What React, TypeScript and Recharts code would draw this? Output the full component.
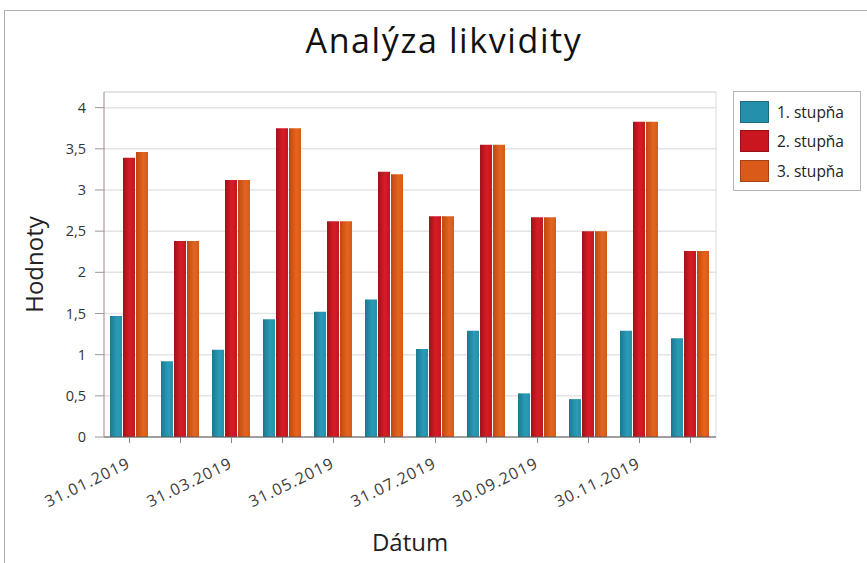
import { Bar, BarChart, CartesianGrid, Legend, XAxis, YAxis } from "recharts";

const dates = [
  "31.01.2019", "28.02.2019", "31.03.2019", "30.04.2019", "31.05.2019", "30.06.2019",
  "31.07.2019", "31.08.2019", "30.09.2019", "31.10.2019", "30.11.2019", "31.12.2019",
];
const stupen1 = [1.47, 0.92, 1.06, 1.43, 1.52, 1.67, 1.07, 1.29, 0.53, 0.46, 1.29, 1.2];
const stupen2 = [3.39, 2.38, 3.12, 3.75, 2.62, 3.22, 2.68, 3.55, 2.67, 2.5, 3.83, 2.26];
const stupen3 = [3.46, 2.38, 3.12, 3.75, 2.62, 3.19, 2.68, 3.55, 2.67, 2.5, 3.83, 2.26];

const seriesNames = ["1. stupňa", "2. stupňa", "3. stupňa"];
const majorTicks = [0, 0.5, 1, 1.5, 2, 2.5, 3, 3.5, 4];
const minorTicks = [
  0, 0.1, 0.2, 0.3, 0.4, 0.5, 0.6, 0.7, 0.8, 0.9, 1, 1.1, 1.2, 1.3, 1.4, 1.5, 1.6, 1.7, 1.8, 1.9,
  2, 2.1, 2.2, 2.3, 2.4, 2.5, 2.6, 2.7, 2.8, 2.9, 3, 3.1, 3.2, 3.3, 3.4, 3.5, 3.6, 3.7, 3.8, 3.9, 4,
];

const colors = ["url(#gTeal)", "url(#gRed)", "url(#gOrange)"];
const swatches = ["#2590ab", "#c9161f", "#da5a1a"];

const data = dates.map((d, i) => ({
  date: d,
  s1: stupen1[i],
  s2: stupen2[i],
  s3: stupen3[i],
}));

const FONT = "'Open Sans', 'DejaVu Sans', sans-serif";

const DateTick = (props: any) => {
  const { x, y, payload, index } = props;
  // only every second date gets a label, ticks stay on all
  if (index % 2 !== 0) return null;
  return (
    <g transform={`translate(${x + 2},${y + 22})`}>
      <text
        x={0}
        y={0}
        textAnchor="end"
        transform="rotate(-26)"
        fontSize={16}
        letterSpacing={1.1}
        fill="#3a3a3a"
        fontFamily={FONT}
      >
        {payload.value}
      </text>
    </g>
  );
};

const LegendBox = () => (
  <div
    style={{
      border: "1px solid #b5b5b5",
      background: "#fff",
      padding: "5px 4px 4px 6px",
      width: 116,
      fontFamily: FONT,
      fontSize: 15.5,
      color: "#222",
    }}
  >
    {seriesNames.map((n, i) => (
      <div key={n} style={{ display: "flex", alignItems: "center", height: 29.5 }}>
        <div
          style={{
            width: 29,
            height: 22,
            background: swatches[i],
            border: "1px solid rgba(0,0,0,0.25)",
            boxSizing: "border-box",
            marginRight: 8,
          }}
        />
        <span>{n}</span>
      </div>
    ))}
  </div>
);

export default function App() {
  return (
    <div style={{ position: "absolute", left: 0, top: 0, width: 867, height: 563, background: "#fff" }}>
      <div
        style={{
          position: "absolute",
          left: 4,
          top: 10,
          width: 880,
          height: 570,
          border: "1px solid #b0b0b0",
          boxSizing: "border-box",
        }}
      />
      <div
        style={{
          position: "absolute",
          left: 0,
          top: 17,
          width: 888,
          textAlign: "center",
          fontFamily: FONT,
          fontSize: 34,
          letterSpacing: 1.6,
          color: "#111",
        }}
      >
        Analýza likvidity
      </div>
      <div style={{ position: "absolute", left: 0, top: 0 }}>
        <BarChart
          width={867}
          height={563}
          data={data}
          margin={{ top: 92, right: 151, bottom: 6, left: 0 }}
          barCategoryGap={6}
          barGap={1}
        >
          <defs>
            <linearGradient id="gTeal" x1="0" y1="0" x2="1" y2="0">
              <stop offset="0%" stopColor="#1b7890" />
              <stop offset="60%" stopColor="#2a9bb8" />
              <stop offset="100%" stopColor="#2690aa" />
            </linearGradient>
            <linearGradient id="gRed" x1="0" y1="0" x2="1" y2="0">
              <stop offset="0%" stopColor="#9e1219" />
              <stop offset="55%" stopColor="#d81c26" />
              <stop offset="100%" stopColor="#c4161f" />
            </linearGradient>
            <linearGradient id="gOrange" x1="0" y1="0" x2="1" y2="0">
              <stop offset="0%" stopColor="#bf4810" />
              <stop offset="60%" stopColor="#e3651f" />
              <stop offset="100%" stopColor="#d65a18" />
            </linearGradient>
          </defs>
          <CartesianGrid vertical={false} stroke="#e4e4e4" strokeWidth={1.5} />
          <CartesianGrid
            stroke="#dcdcdc"
            horizontalCoordinatesGenerator={({ offset }: any) => [offset.top]}
            verticalCoordinatesGenerator={({ offset }: any) => [offset.left + offset.width]}
          />
          <XAxis
            dataKey="date"
            interval={0}
            height={120}
            tick={<DateTick />}
            tickSize={6}
            tickLine={{ stroke: "#888" }}
            axisLine={{ stroke: "#555" }}
            label={{
              value: "Dátum",
              position: "insideBottom",
              offset: 6,
              fontSize: 24,
              fill: "#222",
              fontFamily: FONT,
            }}
          />
          <YAxis
            width={104}
            domain={[0, 4.19]}
            ticks={majorTicks}
            interval={0}
            tickSize={9}
            tickMargin={9}
            tickFormatter={(v: number) => String(v).replace(".", ",")}
            tick={{ fontSize: 14.5, fill: "#333", fontFamily: FONT }}
            tickLine={{ stroke: "#999" }}
            axisLine={{ stroke: "#a08585" }}
            label={{
              value: "Hodnoty",
              angle: -90,
              position: "center",
              dx: -18,
              fontSize: 24,
              fill: "#222",
              fontFamily: FONT,
            }}
          />
          <YAxis
            yAxisId="minor"
            width={0}
            domain={[0, 4.19]}
            ticks={minorTicks}
            interval={0}
            tick={false}
            tickSize={4}
            tickLine={{ stroke: "#aaa" }}
            axisLine={false}
          />
          <Legend
            layout="vertical"
            align="center"
            verticalAlign="middle"
            wrapperStyle={{ top: 91, left: 733, width: "auto" }}
            content={() => <LegendBox />}
          />
          <Bar dataKey="s1" name={seriesNames[0]} fill={colors[0]} isAnimationActive={false} />
          <Bar dataKey="s2" name={seriesNames[1]} fill={colors[1]} isAnimationActive={false} />
          <Bar dataKey="s3" name={seriesNames[2]} fill={colors[2]} isAnimationActive={false} />
        </BarChart>
      </div>
    </div>
  );
}
